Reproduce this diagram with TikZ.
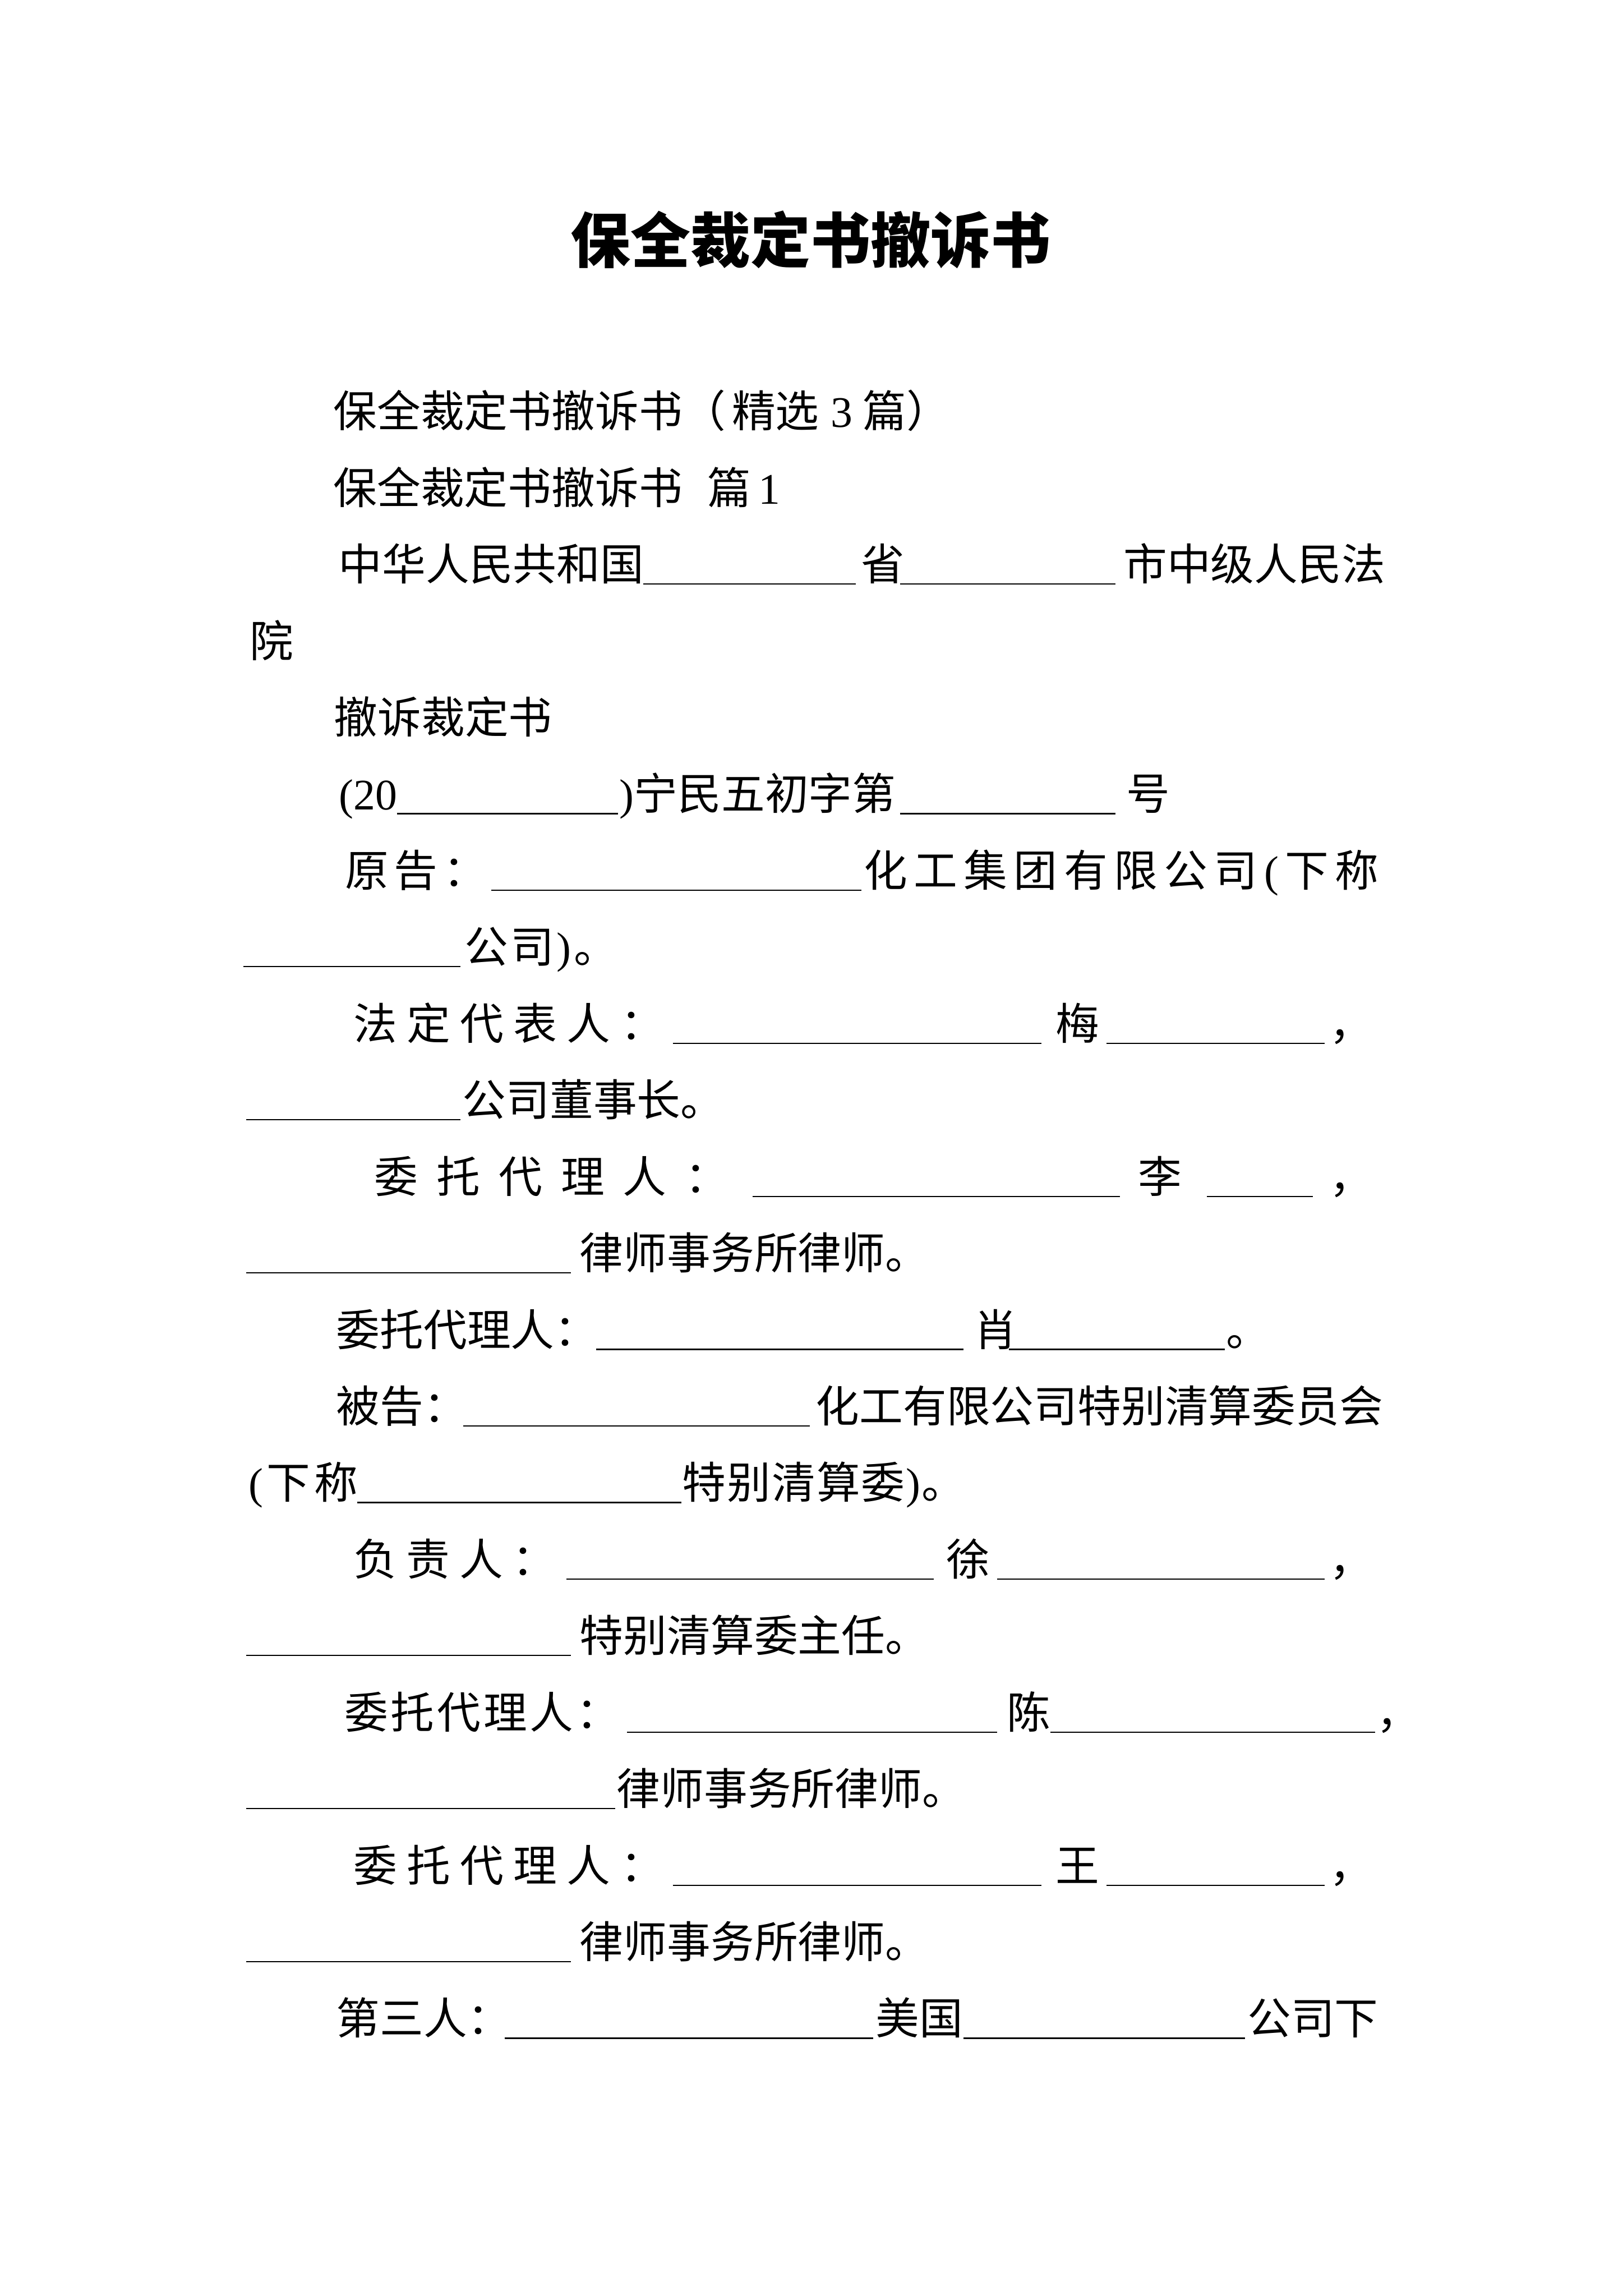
\documentclass[tikz,border=0pt]{standalone}
\usepackage{fontspec}
\newfontfamily\cjk{Noto Sans CJK SC}
\newfontfamily\lat{Liberation Serif}
\newlength\ux \setlength\ux{0.5412pt}
\newcommand\lp{{\lat(}}
\newcommand\rp{{\lat)}}
\def\spreadA#1{\ifx\relax#1\else#1\expandafter\spreadB\fi}
\def\spreadB#1{\ifx\relax#1\else\hfill#1\expandafter\spreadB\fi}
\tikzset{
  txt/.style={anchor=base west, inner sep=0pt, outer sep=0pt, font=\cjk\fontsize{16pt}{16pt}\selectfont},
  ttl/.style={anchor=base, inner sep=0pt, outer sep=0pt, font=\cjk\bfseries\fontsize{22pt}{22pt}\selectfont},
  uline/.style={line width=0.45pt, black}
}
\newcommand\ptx[4]{\node[txt] (#1) at (#2,#3) {#4};}
\newcommand\sgm[5]{\node[txt] (#1) at (#2,#4) {\makebox[\dimexpr #3\ux-#2\ux\relax][s]{\spreadA#5\relax}};}
\newcommand\uln[3]{\draw[uline] (#1,#3+2.5) -- (#2,#3+2.5);}
\begin{document}
\begin{tikzpicture}[x=0.5412pt,y=-0.5412pt]
\fill[white] (0,0) rectangle (1100,1555.8);
\useasboundingbox (0,0) rectangle (1100,1555.8);
\node[ttl] (title) at (549.5,178) {保全裁定书撤诉书};
% line 1-2
\ptx{l1}{226}{289.56}{保全裁定书撤诉书（\kern4\ux 精选\kern8\ux{\lat 3}\kern7\ux 篇）}
\ptx{l2}{226}{341.42}{保全裁定书撤诉书\kern17\ux 篇\kern5\ux{\lat 1}}
% line 3
\ptx{l3a}{229.5}{393.28}{中华人民共和国}
\uln{436}{580}{393.28}
\ptx{l3b}{583.5}{393.28}{省}
\uln{610}{756}{393.28}
\ptx{l3c}{761.5}{393.28}{市中级人民法}
% line 4-5
\ptx{l4}{169.5}{445.14}{院}
\ptx{l5}{226.5}{497}{撤诉裁定书}
% line 6
\ptx{l6a}{229.7}{548.86}{{\lat (20}}
\uln{269}{419}{548.86}
\ptx{l6b}{420}{548.86}{\rp 宁民五初字第}
\uln{610}{756}{548.86}
\ptx{l6c}{763.5}{548.86}{号}
% line 7
\sgm{l7a}{234}{330}{600.72}{原告：}
\uln{333}{584}{600.72}
\sgm{l7b}{585.5}{934.5}{600.72}{化工集团有限公司\lp 下称}
% line 8
\uln{165}{312}{652.58}
\sgm{l8}{315}{418.5}{652.58}{公司\rp 。}
% line 9
\sgm{l9a}{239.5}{450}{704.44}{法定代表人：}
\uln{456}{706}{704.44}
\ptx{l9b}{715.5}{704.44}{梅}
\uln{750}{898}{704.44}
\ptx{l9c}{901}{704.44}{，}
% line 10
\uln{167}{312}{756.3}
\ptx{l10}{313.5}{756.3}{公司董事长。}
% line 11
\sgm{l11a}{253.8}{494}{808.16}{委托代理人：}
\uln{510}{759}{808.16}
\ptx{l11b}{771.5}{808.16}{李}
\uln{818}{890}{808.16}
\ptx{l11c}{901}{808.16}{，}
% line 12
\uln{167}{387}{860.02}
\ptx{l12}{393}{860.02}{律师事务所律师。}
% line 13
\ptx{l13a}{228}{911.88}{委托代理人：}
\uln{404}{653}{911.88}
\ptx{l13b}{660}{911.88}{肖}
\uln{684}{830}{911.88}
\ptx{l13c}{831}{911.88}{。}
% line 14
\ptx{l14a}{228}{963.74}{被告：}
\uln{314}{549}{963.74}
\ptx{l14b}{553}{963.74}{化工有限公司特别清算委员会}
% line 15
\sgm{l15a}{168.5}{242.5}{1015.6}{\lp 下称}
\uln{242}{462}{1015.6}
\sgm{l15b}{462.5}{654.3}{1015.6}{特别清算委\rp 。}
% line 16
\sgm{l16a}{239.5}{377}{1067.46}{负责人：}
\uln{384}{633}{1067.46}
\ptx{l16b}{641.5}{1067.46}{徐}
\uln{676}{898}{1067.46}
\ptx{l16c}{901}{1067.46}{，}
% line 17
\uln{167}{387}{1119.32}
\ptx{l17}{393}{1119.32}{特别清算委主任。}
% line 18
\sgm{l18a}{233.5}{420}{1171.18}{委托代理人：}
\uln{425}{676}{1171.18}
\ptx{l18b}{682.5}{1171.18}{陈}
\uln{712}{932}{1171.18}
\ptx{l18c}{933}{1171.18}{，}
% line 19
\uln{167}{417}{1223.04}
\ptx{l19}{418}{1223.04}{律师事务所律师。}
% line 20
\sgm{l20a}{239.5}{450}{1274.9}{委托代理人：}
\uln{456}{706}{1274.9}
\ptx{l20b}{715.5}{1274.9}{王}
\uln{750}{898}{1274.9}
\ptx{l20c}{901}{1274.9}{，}
% line 21
\uln{167}{387}{1326.76}
\ptx{l21}{393}{1326.76}{律师事务所律师。}
% line 22
\ptx{l22a}{228}{1378.62}{第三人：}
\uln{342}{592}{1378.62}
\ptx{l22b}{593.5}{1378.62}{美国}
\uln{653}{844}{1378.62}
\ptx{l22c}{845.5}{1378.62}{公司下}
\end{tikzpicture}
\end{document}
